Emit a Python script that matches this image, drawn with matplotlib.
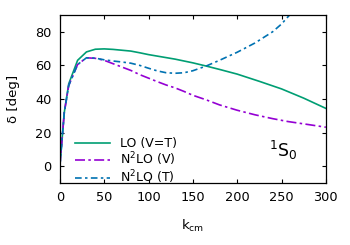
import matplotlib
matplotlib.use("Agg")
import matplotlib.pyplot as plt

k_lo = [0, 5, 10, 20, 30, 40, 50, 60, 70, 80, 90, 100, 110, 120, 130, 150, 165, 180,
        200, 225, 250, 275, 300]
d_lo = [0, 32, 49, 63, 68, 69.6, 69.8, 69.5, 69.0, 68.5, 67.5, 66.4, 65.5, 64.6, 63.7,
        61.5, 59.6, 57.6, 54.8, 50.5, 46, 40.5, 34.4]

k_v = [0, 5, 10, 20, 30, 40, 50, 60, 70, 80, 90, 100, 110, 120, 130, 140, 150, 165,
       180, 200, 220, 240, 257, 280, 300]
d_v = [0, 32, 48, 60.5, 64.5, 64.2, 63, 61, 59, 57, 54.5, 52.4, 50.3, 48.3, 46.6, 44.5,
       42.2, 39.5, 36.5, 33.3, 30.6, 28.3, 26.6, 24.8, 23.2]

k_t = [0, 5, 10, 20, 30, 40, 50, 60, 70, 80, 90, 100, 110, 120, 130, 140, 150, 165,
       180, 200, 220, 240, 250, 260]
d_t = [0, 32, 48, 60.5, 64.5, 64.3, 63.3, 62.6, 62.0, 61.3, 60, 58.3, 56.7, 55.6, 55.3,
       55.6, 56.8, 59.6, 63, 67.8, 73.3, 80, 84.6, 90.5]

labels = ["LO (V=T)", r"N$^2$LO (V)", r"N$^2$LO (T)"]

fig = plt.figure(figsize=(3.5, 2.45), dpi=100)
ax = fig.add_axes([0.171, 0.253, 0.76, 0.686])

ax.plot(k_lo, d_lo, color="#009e73", lw=1.2, label=labels[0])
ax.plot(k_v, d_v, color="#9400d3", lw=1.2, dashes=(6, 2, 1.5, 2), label=labels[1])
ax.plot(k_t, d_t, color="#0072b2", lw=1.2, dashes=(4, 2, 1.5, 2), label=labels[2])

ax.set_xlim(0, 300)
ax.set_ylim(-10, 90)
ax.set_xticks([0, 50, 100, 150, 200, 250, 300])
ax.set_yticks([0, 20, 40, 60, 80])
ax.tick_params(direction="in", top=True, right=True, labelsize=9.3, length=3, pad=6)
for s in ax.spines.values():
    s.set_linewidth(0.9)

ax.set_xlabel(r"k$_{\rm cm}$", fontsize=9.5)
ax.set_ylabel("δ [deg]", fontsize=9.5)
ax.yaxis.set_label_coords(-0.15, 0.5)
ax.xaxis.set_label_coords(0.5, -0.21)

ax.text(252, 9.5, r"$^{1}$S$_{0}$", fontsize=12.5, ha="center", va="center")

leg = ax.legend(loc="lower left", bbox_to_anchor=(0.03, -0.06), frameon=False,
                fontsize=9, handlelength=2.8, handletextpad=0.8,
                labelspacing=0.0, borderaxespad=0.2)

fig.savefig("out.png", dpi=100)
